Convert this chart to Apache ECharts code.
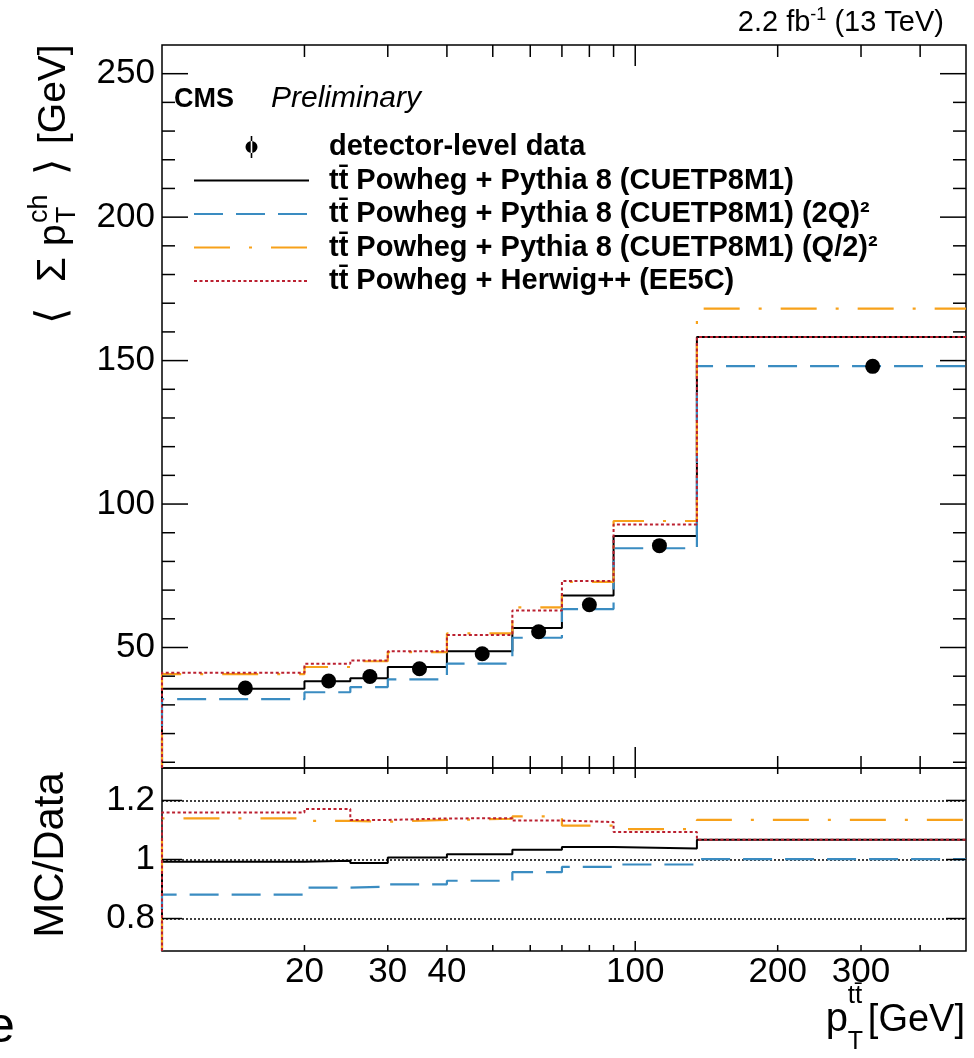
<!DOCTYPE html>
<html>
<head>
<meta charset="utf-8">
<script src="https://cdn.jsdelivr.net/npm/echarts@6/dist/echarts.min.js"></script>
<style>
html, body { margin: 0; padding: 0; background: #fff; }
#container { width: 974px; height: 1058px; }
</style>
</head>
<body>
<div id="container"></div>
<script>
// bins in pT(tt) [GeV]
var binEdges = [10, 20, 25, 30, 40, 55, 70, 90, 135, 500];
var binCenters = [15, 22.5, 27.5, 35, 47.5, 62.5, 80, 112.5, 317.5];

// <sum pT ch> [GeV]
var dataMean = [35.9, 38.3, 39.9, 42.6, 47.8, 55.5, 64.9, 85.5, 148.0];
var pythia = [35.6, 38.2, 39.3, 43.2, 48.7, 56.8, 68.1, 88.9, 158.2];
var pythia2Q = [32.0, 34.4, 36.2, 38.9, 44.4, 53.4, 63.4, 84.6, 148.1];
var pythiaHalfQ = [40.7, 43.2, 45.2, 48.4, 54.9, 64.0, 72.9, 94.1, 168.1];
var herwig = [41.2, 44.3, 45.5, 48.7, 54.4, 62.9, 73.2, 92.9, 158.2];

// MC/Data
var ratioPythia = [0.992, 0.996, 0.988, 1.007, 1.018, 1.033, 1.042, 1.037, 1.067];
var ratio2Q = [0.881, 0.905, 0.908, 0.916, 0.928, 0.957, 0.975, 0.983, 1.001];
var ratioHalfQ = [1.139, 1.131, 1.128, 1.134, 1.138, 1.146, 1.115, 1.103, 1.134];
var ratioHerwig = [1.159, 1.171, 1.134, 1.139, 1.140, 1.132, 1.127, 1.093, 1.067];

// axes
var xTickLabels = [20, 30, 40, 100, 200, 300];
var xMinorTicks = [20, 30, 40, 50, 60, 70, 80, 90, 200, 300, 400];
var xMajorTicks = [100];
var yMajorTop = [50, 100, 150, 200, 250];
var yMajorRatio = [0.8, 1, 1.2];
var ratioRefLines = [0.8, 1, 1.2];

var FONT = 'Liberation Sans';
var xMin = 10, xMax = 500;
var yMinTop = 8, yMaxTop = 260;
var yMinRatio = 0.69, yMaxRatio = 1.31;

var TT = 'tt\u0304';
var models = [
  { name: TT + ' Powheg + Pythia 8 (CUETP8M1)', top: pythia, ratio: ratioPythia, color: '#000000', dash: 'solid', width: 2 },
  { name: TT + ' Powheg + Pythia 8 (CUETP8M1) (2Q)\u00b2', top: pythia2Q, ratio: ratio2Q, color: '#3a8cc1', dash: [29, 13], width: 2.2 },
  { name: TT + ' Powheg + Pythia 8 (CUETP8M1) (Q/2)\u00b2', top: pythiaHalfQ, ratio: ratioHalfQ, color: '#f7a11a', dash: [36, 19, 3, 19], width: 2.2 },
  { name: TT + ' Powheg + Herwig++ (EE5C)', top: herwig, ratio: ratioHerwig, color: '#bb2030', dash: [3, 2.5], width: 2 }
];
var dataName = 'detector-level data';

function stepData(vals, floor) {
  var pts = [[binEdges[0], floor]];
  for (var i = 0; i < vals.length; i++) pts.push([binEdges[i], vals[i]]);
  pts.push([binEdges[binEdges.length - 1], vals[vals.length - 1]]);
  return pts;
}

// tick data: [x, y, kind]  kind 0 x-minor, 1 x-major, 2 y-minor, 3 y-major
var topTicks = [];
xMinorTicks.forEach(function (v) { topTicks.push([v, yMinTop, 0]); });
xMajorTicks.forEach(function (v) { topTicks.push([v, yMinTop, 1]); });
for (var t = 10; t < yMaxTop; t += 10) {
  if (yMajorTop.indexOf(t) < 0) topTicks.push([xMin, t, 2]);
}
yMajorTop.forEach(function (v) { topTicks.push([xMin, v, 3]); });

var ratioTicks = [];
xMinorTicks.forEach(function (v) { ratioTicks.push([v, yMinRatio, 0]); });
xMajorTicks.forEach(function (v) { ratioTicks.push([v, yMinRatio, 1]); });
yMajorRatio.forEach(function (v) { ratioTicks.push([xMin, v, 3]); });

function tickRenderer(len) {
  return function (params, api) {
    var cs = params.coordSys;
    var kind = api.value(2);
    var p = api.coord([api.value(0), api.value(1)]);
    var segs;
    if (kind < 2) {
      var lx = kind === 0 ? len.xMinor : len.xMajor;
      var b = cs.y + cs.height;
      segs = [[p[0], b, p[0], b - lx], [p[0], cs.y, p[0], cs.y + lx]];
    } else {
      var ly = kind === 2 ? len.yMinor : len.yMajor;
      var r = cs.x + cs.width;
      segs = [[cs.x, p[1], cs.x + ly, p[1]], [r, p[1], r - ly, p[1]]];
    }
    return {
      type: 'group',
      children: segs.map(function (s) {
        return { type: 'line', shape: { x1: s[0], y1: s[1], x2: s[2], y2: s[3] }, style: { stroke: '#000', lineWidth: 1.5 } };
      })
    };
  };
}

// text helpers
var mctx = document.createElement('canvas').getContext('2d');
function tw(text, size, weight, fstyle) {
  mctx.font = (fstyle || 'normal') + ' ' + (weight || 'normal') + ' ' + size + 'px "' + FONT + '"';
  return mctx.measureText(text).width;
}
function textEl(x, baseline, text, size, opt) {
  opt = opt || {};
  return {
    type: 'text', x: x, y: baseline - 0.35 * size,
    style: {
      text: text, fontSize: size, fontFamily: FONT, fill: '#000',
      fontWeight: opt.weight || 'normal', fontStyle: opt.fstyle || 'normal',
      textAlign: opt.align || 'left', align: opt.align || 'left',
      textVerticalAlign: 'middle', verticalAlign: 'middle'
    }
  };
}
// pieces on one baseline; at = explicit offset, dy = baseline shift
function row(pieces) {
  var x = 0, kids = [];
  pieces.forEach(function (p) {
    var px = p.at != null ? p.at : x;
    kids.push(textEl(px, p.dy || 0, p.t, p.size, p));
    if (p.adv !== false) x = px + tw(p.t, p.size, p.weight, p.fstyle);
  });
  return { kids: kids, width: x };
}

var series = [];
models.forEach(function (m, i) {
  series.push({
    type: 'line', name: m.name, xAxisIndex: 0, yAxisIndex: 0,
    step: 'end', symbol: 'none', data: stepData(m.top, yMinTop),
    lineStyle: { color: m.color, width: m.width, type: m.dash },
    itemStyle: { color: m.color }, z: 3 + i
  });
});
models.forEach(function (m, i) {
  var s = {
    type: 'line', name: m.name, xAxisIndex: 1, yAxisIndex: 1,
    step: 'end', symbol: 'none', data: stepData(m.ratio, yMinRatio),
    lineStyle: { color: m.color, width: m.width, type: m.dash },
    itemStyle: { color: m.color }, z: 3 + i
  };
  if (i === 0) {
    s.markLine = {
      silent: true, symbol: 'none', animation: false,
      label: { show: false },
      lineStyle: { color: '#000', type: [2, 2], width: 1.5 },
      data: ratioRefLines.map(function (v) { return { yAxis: v }; }),
      z: 2
    };
  }
  series.push(s);
});
series.push({
  type: 'scatter', name: dataName, xAxisIndex: 0, yAxisIndex: 0,
  symbol: 'circle', symbolSize: 15, z: 10,
  itemStyle: { color: '#000', opacity: 1 },
  data: binCenters.map(function (x, i) { return [x, dataMean[i]]; })
});
series.push({
  type: 'custom', xAxisIndex: 0, yAxisIndex: 0, silent: true, z: 12, clip: false,
  renderItem: tickRenderer({ xMinor: 12, xMajor: 21, yMinor: 13, yMajor: 26 }),
  data: topTicks
});
series.push({
  type: 'custom', xAxisIndex: 1, yAxisIndex: 1, silent: true, z: 12, clip: false,
  renderItem: tickRenderer({ xMinor: 6, xMajor: 10, yMinor: 6, yMajor: 20 }),
  data: ratioTicks
});
series.push({
  type: 'custom', xAxisIndex: 1, yAxisIndex: 1, silent: true, z: 12, clip: false,
  renderItem: function (params, api) {
    var cs = params.coordSys;
    var p = api.coord([api.value(0), api.value(1)]);
    return textEl(p[0], cs.y + cs.height + 34, String(api.value(0)), 35, { align: 'center' });
  },
  data: xTickLabels.map(function (v) { return [v, yMinRatio]; })
});

var axisCommon = { axisLine: { show: false }, axisTick: { show: false }, splitLine: { show: false } };

var option = {
  animation: false,
  grid: [
    { left: 162, right: 8, top: 45, height: 723, show: true, borderColor: '#000', borderWidth: 1.5, backgroundColor: 'transparent', containLabel: false, outerBoundsMode: 'none' },
    { left: 162, right: 8, top: 768, height: 183, show: true, borderColor: '#000', borderWidth: 1.5, backgroundColor: 'transparent', containLabel: false, outerBoundsMode: 'none' }
  ],
  xAxis: [
    Object.assign({ type: 'log', logBase: 10, min: xMin, max: xMax, gridIndex: 0, axisLabel: { show: false } }, axisCommon),
    Object.assign({ type: 'log', logBase: 10, min: xMin, max: xMax, gridIndex: 1, axisLabel: { show: false } }, axisCommon)
  ],
  yAxis: [
    Object.assign({
      type: 'value', min: yMinTop, max: yMaxTop, splitNumber: 5, gridIndex: 0,
      axisLabel: { fontFamily: FONT, fontSize: 35, color: '#000', margin: 7, showMinLabel: false, showMaxLabel: false }
    }, axisCommon),
    Object.assign({
      type: 'value', min: yMinRatio, max: yMaxRatio, splitNumber: 3, gridIndex: 1,
      axisLabel: { fontFamily: FONT, fontSize: 35, color: '#000', margin: 7, showMinLabel: false, showMaxLabel: false }
    }, axisCommon)
  ],
  legend: {
    orient: 'vertical', left: 193, top: 132, padding: 0,
    itemWidth: 115, itemHeight: 22, itemGap: 3.5, selectedMode: false,
    textStyle: { fontFamily: FONT, fontWeight: 'bold', fontSize: 29, color: '#000', lineHeight: 30, padding: [0, 0, 0, 15] },
    data: [
      { name: dataName, icon: 'path://M5.2,0 L6.8,0 L6.8,22 L5.2,22 Z M0,11 A6,6 0 1,0 12,11 A6,6 0 1,0 0,11 Z', itemStyle: { opacity: 1 } }
    ].concat(models.map(function (m) { return { name: m.name, itemStyle: { opacity: 0 } }; }))
  },
  series: series
};

var dom = document.getElementById('container');
var myChart = echarts.init(dom);
myChart.setOption(option);

// titles and labels drawn on top
var yTitle = row([
  { t: '\u27e8', size: 42, at: 2 },
  { t: '\u03a3', size: 40, at: 44 },
  { t: 'p', size: 39, at: 80 },
  { t: 'ch', size: 27, dy: -19, adv: false, at: 103 },
  { t: 'T', size: 27, dy: 9, at: 103 },
  { t: '\u27e9', size: 42, at: 151 },
  { t: '[GeV]', size: 39, at: 182 }
]);
var xTitle = row([
  { t: 'p', size: 40, at: 0 },
  { t: TT, size: 26, dy: -29, adv: false, at: 22 },
  { t: 'T', size: 25, dy: 17, at: 22 },
  { t: '[GeV]', size: 38, at: 42 }
]);
var lumi = row([
  { t: '2.2 fb', size: 29 },
  { t: '-1', size: 18, dy: -12 },
  { t: ' (13 TeV)', size: 29 }
]);

var extras = [
  textEl(174, 109, 'CMS', 27, { weight: 'bold' }),
  textEl(271, 109, 'Preliminary', 30, { fstyle: 'italic' }),
  { type: 'group', x: 944 - lumi.width, y: 33, children: lumi.kids },
  { type: 'group', x: 68, y: 326, rotation: Math.PI / 2, children: yTitle.kids },
  { type: 'group', x: 965 - xTitle.width, y: 1034, children: xTitle.kids },
  {
    type: 'text', x: 72, y: 855, rotation: Math.PI / 2,
    style: { text: 'MC/Data', fontSize: 42, fontFamily: FONT, fill: '#000', textAlign: 'center', align: 'center', textVerticalAlign: 'bottom', verticalAlign: 'bottom' }
  },
  textEl(-13, 1046, 'e', 50)
];
// add the text elements, keeping any that render
var placed = [];
extras.forEach(function (el) {
  try {
    myChart.setOption({ graphic: placed.concat([el]) }, { replaceMerge: ['graphic'] });
    placed.push(el);
  } catch (e) {
    myChart.setOption({ graphic: placed }, { replaceMerge: ['graphic'] });
  }
});

window.addEventListener('resize', function () {
  myChart.resize();
});
</script>
</body>
</html>
